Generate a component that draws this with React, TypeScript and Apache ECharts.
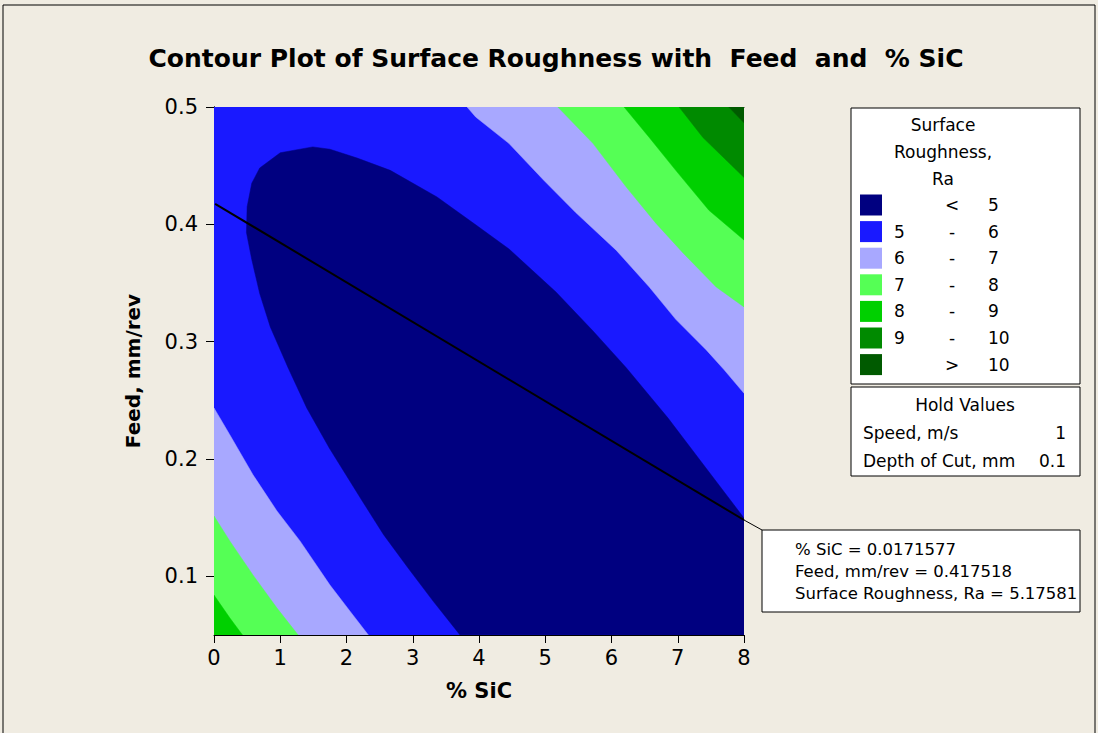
import React, { useEffect, useRef } from "react";
import * as echarts from "echarts";

// ---------- data ----------
const xExtent = [0, 8];
const yExtent = [0.05, 0.5];
const xTickValues = [0, 1, 2, 3, 4, 5, 6, 7, 8];
const yTickValues = [0.1, 0.2, 0.3, 0.4, 0.5];

const titleText = "Contour Plot of Surface Roughness with  Feed  and  % SiC";
const xName = "% SiC";
const yName = "Feed, mm/rev";

const legendTitle = ["Surface", "Roughness,", "Ra"];
const bandLow = ["", "5", "6", "7", "8", "9", ""];
const bandSign = ["<", "-", "-", "-", "-", "-", ">"];
const bandHigh = ["5", "6", "7", "8", "9", "10", "10"];
const bandColors = ["#000080", "#1919FF", "#A8A8FF", "#55FF55", "#00D000", "#008A00", "#005A00"];

// contour lines: [ % SiC, Feed ]
const contour5 = [
  [3.71, 0.0503], [3.31, 0.0787], [2.93, 0.1071], [2.56, 0.1355], [2.24, 0.164], [1.74, 0.2094],
  [1.4, 0.2435], [1.12, 0.2776], [0.85, 0.3125], [0.69, 0.341], [0.57, 0.37], [0.49, 0.393],
  [0.5, 0.415], [0.57, 0.435], [0.69, 0.448], [1.0, 0.461], [1.49, 0.466], [1.75, 0.464],
  [2.16, 0.4565], [2.66, 0.446], [3.366, 0.4233], [3.955, 0.3994], [4.453, 0.379], [5.162, 0.3423],
  [5.721, 0.3091], [6.219, 0.278], [6.853, 0.2349], [7.426, 0.1923], [8, 0.1497],
];
const contour6Low = [
  [0, 0.2435], [0.24, 0.2205], [0.59, 0.1864], [0.95, 0.1557], [1.3, 0.13], [1.75, 0.0926],
  [2.05, 0.0705], [2.33, 0.05],
];
const contour6High = [
  [3.82, 0.5], [3.95, 0.4915], [4.45, 0.469], [4.97, 0.438], [5.46, 0.41], [6.07, 0.378],
  [6.57, 0.3466], [6.97, 0.319], [7.43, 0.293], [7.7, 0.276], [8, 0.256],
];
const contour7Low = [[0, 0.1514], [0.24, 0.13], [0.59, 0.101], [0.95, 0.073], [1.27, 0.05]];
const contour7High = [
  [5.19, 0.5], [5.72, 0.469], [6.22, 0.432], [6.67, 0.401], [7.08, 0.3756], [7.58, 0.3466], [8, 0.3296],
];
const contour8Low = [[0, 0.084], [0.24, 0.0645], [0.43, 0.05]];
const contour8High = [[6.19, 0.5], [6.57, 0.474], [6.97, 0.446], [7.47, 0.412], [8, 0.3866]];
const contour9High = [[7.02, 0.5], [7.38, 0.474], [8, 0.44]];
const contour10High = [[7.77, 0.5], [8, 0.4865]];

const holdNames = ["Speed, m/s", "Depth of Cut, mm"];
const holdValues = ["1", "0.1"];

const cursorPoint = [0.0171577, 0.417518];
const cursorRa = "5.17581";
const lineEnd = [8, 0.148];

// ---------- regions ----------
const LL = [xExtent[0], yExtent[0]];
const LR = [xExtent[1], yExtent[0]];
const UR = [xExtent[1], yExtent[1]];
const UL = [xExtent[0], yExtent[1]];
const regions = [
  { pts: [LL, LR, UR, UL], band: 1 },
  { pts: [...contour5, LR], band: 0 },
  { pts: [...contour6Low, LL], band: 2 },
  { pts: [...contour6High, UR], band: 2 },
  { pts: [...contour7Low, LL], band: 3 },
  { pts: [...contour7High, UR], band: 3 },
  { pts: [...contour8Low, LL], band: 4 },
  { pts: [...contour8High, UR], band: 4 },
  { pts: [...contour9High, UR], band: 5 },
  { pts: [...contour10High, UR], band: 6 },
];

const FONT = "DejaVu Sans";
const BG = "#F0ECE2";

export default function App() {
  const ref = useRef<HTMLDivElement>(null);
  useEffect(() => {
    if (!ref.current) return;
    const chart = echarts.init(ref.current, undefined, { renderer: "svg" });
    const axisCommon = {
      axisLine: { show: true, lineStyle: { color: "#000", width: 1 } },
      splitLine: { show: false },
    };
    chart.setOption({
      animation: false,
      backgroundColor: BG,
      grid: { left: 214, top: 107, width: 530, height: 528, show: false },
      xAxis: [
        {
          type: "value",
          min: xExtent[0],
          max: xExtent[1],
          interval: 1,
          name: xName,
          nameLocation: "middle",
          nameGap: 45,
          nameTextStyle: { fontFamily: FONT, fontWeight: "bold", fontSize: 21, color: "#000" },
          ...axisCommon,
          axisTick: { show: true, length: 8, lineStyle: { color: "#000" }, customValues: xTickValues },
          axisLabel: { fontFamily: FONT, fontSize: 21, color: "#000", margin: 12, customValues: xTickValues },
        },
        {
          type: "value",
          position: "top",
          min: xExtent[0],
          max: xExtent[1],
          ...axisCommon,
          axisTick: { show: false },
          axisLabel: { show: false },
        },
      ],
      yAxis: [
        {
          type: "value",
          min: yExtent[0],
          max: yExtent[1],
          interval: 0.05,
          name: yName,
          nameLocation: "middle",
          nameGap: 71,
          nameTextStyle: { fontFamily: FONT, fontWeight: "bold", fontSize: 20, color: "#000" },
          ...axisCommon,
          axisTick: { show: true, length: 8, lineStyle: { color: "#000" }, customValues: yTickValues },
          axisLabel: {
            fontFamily: FONT,
            fontSize: 21,
            color: "#000",
            margin: 16,
            customValues: yTickValues,
            formatter: (v: number) => v.toFixed(1),
          },
        },
        {
          type: "value",
          position: "right",
          min: yExtent[0],
          max: yExtent[1],
          ...axisCommon,
          axisTick: { show: false },
          axisLabel: { show: false },
        },
      ],
      series: [
        {
          type: "custom",
          coordinateSystem: "cartesian2d",
          silent: true,
          clip: true,
          data: regions.map((r, i) => [r.pts[0][0], r.pts[0][1], i]),
          encode: { x: 0, y: 1 },
          renderItem: (params: any, api: any) => {
            const r = regions[params.dataIndex];
            const c = bandColors[r.band];
            return {
              type: "polygon",
              shape: { points: r.pts.map((p) => api.coord(p)) },
              style: { fill: c, stroke: c, lineWidth: 0.5 },
            };
          },
          z: 1,
        },
        {
          type: "line",
          data: [cursorPoint, lineEnd],
          symbol: "none",
          silent: true,
          lineStyle: { color: "#000", width: 2 },
          z: 5,
        },
      ],
    });

    const anchor = chart.convertToPixel({ gridIndex: 0 }, lineEnd) as number[];
    const txt = (x: number, y: number, text: string, align = "left", size = 17, weight = "normal") => ({
      type: "text",
      x,
      y,
      silent: true,
      style: {
        text,
        align,
        verticalAlign: "middle",
        fontFamily: FONT,
        fontSize: size,
        fontWeight: weight,
        fill: "#000",
      },
    });
    const graphics: any[] = [];
    graphics.push({
      type: "rect",
      shape: { x: 3, y: 5, width: 1092, height: 740 },
      style: { fill: "none", stroke: "#000", lineWidth: 1 },
      silent: true,
    });
    graphics.push(txt(556, 58, titleText, "center", 25, "bold"));
    // legend box
    graphics.push({
      type: "rect",
      shape: { x: 851, y: 108, width: 229, height: 276 },
      style: { fill: "#fff", stroke: "#000", lineWidth: 1 },
      silent: true,
    });
    legendTitle.forEach((t, i) => graphics.push(txt(943, 125 + i * 27, t, "center")));
    bandColors.forEach((c, i) => {
      const cy = 205 + i * 26.6;
      graphics.push({
        type: "rect",
        shape: { x: 860, y: cy - 10.5, width: 22, height: 21 },
        style: { fill: c },
        silent: true,
      });
      if (bandLow[i]) graphics.push(txt(894, cy, bandLow[i]));
      graphics.push(txt(952, cy, bandSign[i], "center"));
      graphics.push(txt(988, cy, bandHigh[i]));
    });
    // hold values box
    graphics.push({
      type: "rect",
      shape: { x: 851, y: 387, width: 229, height: 89 },
      style: { fill: "#fff", stroke: "#000", lineWidth: 1 },
      silent: true,
    });
    graphics.push(txt(965, 405, "Hold Values", "center"));
    holdNames.forEach((n, i) => {
      graphics.push(txt(863, 433 + i * 28, n));
      graphics.push(txt(1066, 433 + i * 28, holdValues[i], "right"));
    });
    // annotation
    graphics.push({
      type: "line",
      shape: { x1: anchor[0], y1: anchor[1], x2: 762, y2: 530 },
      style: { stroke: "#000", lineWidth: 1 },
      silent: true,
    });
    graphics.push({
      type: "rect",
      shape: { x: 762, y: 530, width: 318, height: 82 },
      style: { fill: "#fff", stroke: "#000", lineWidth: 1 },
      silent: true,
    });
    const annot = [
      `% SiC = ${cursorPoint[0]}`,
      `${yName} = ${cursorPoint[1]}`,
      `Surface Roughness, Ra = ${cursorRa}`,
    ];
    annot.forEach((t, i) => graphics.push(txt(795, 549 + i * 22, t, "left", 16.5)));
    chart.setOption({ graphic: graphics });

    return () => chart.dispose();
  }, []);
  return (
    <div
      ref={ref}
      style={{ position: "absolute", left: 0, top: 0, width: 1098, height: 733 }}
    />
  );
}
